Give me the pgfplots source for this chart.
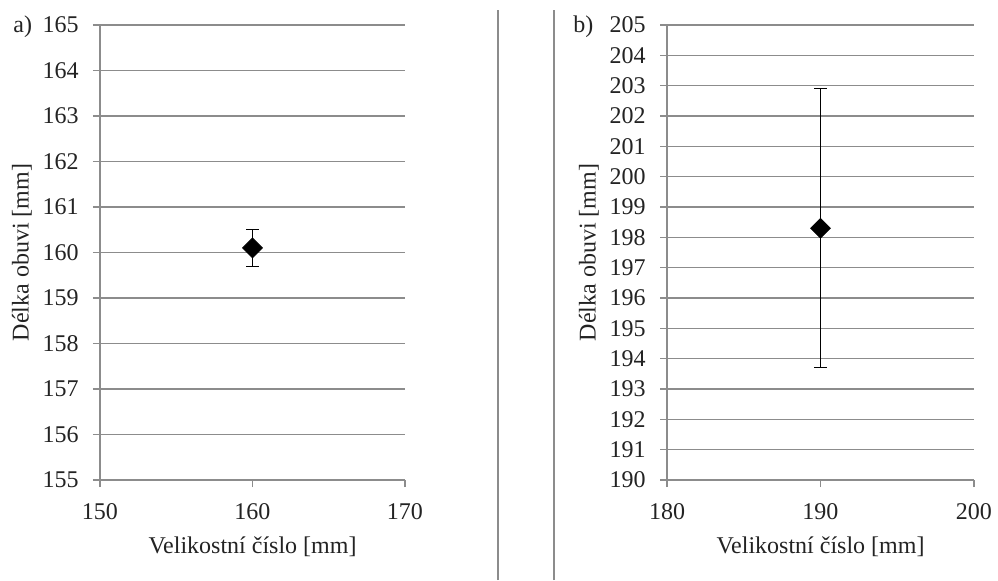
\documentclass[border=0pt]{standalone}
\usepackage{pgfplots}
\pgfplotsset{compat=1.18}
\usepackage{fontspec}
\setmainfont{Liberation Serif}
\definecolor{gridc}{RGB}{140,140,140}
\definecolor{txt}{RGB}{35,35,35}
\pgfplotsset{
  panel/.style={
    scale only axis,
    height=227.5pt,
    axis x line*=bottom, axis y line*=left,
    axis line style={gridc, line width=0.8pt, -},
    ymajorgrids, major grid style={gridc, line width=0.8pt},
    tick align=outside, major tick length=3.5pt,
    tick style={gridc, line width=0.8pt},
    /pgf/number format/assume math mode=true,
    ticklabel style={font=\fontsize{12}{14}\selectfont, text=txt},
    yticklabel style={anchor=east, inner sep=0pt, xshift=-7pt},
    xticklabel style={anchor=base, inner sep=0pt, yshift=-16pt},
    ytick distance=1,
    enlargelimits=false,
    clip=false,
    every axis y label/.style={at={([xshift=-39pt]axis description cs:0,0.5)}, anchor=center, rotate=90, font=\fontsize{12}{14}\selectfont, text=txt},
    every axis x label/.style={at={([yshift=-36.5pt]axis description cs:0.5,0)}, anchor=base, font=\fontsize{12}{14}\selectfont, text=txt},
    xlabel={Velikostní číslo [mm]},
    ylabel={Délka obuvi [mm]},
  },
  pt/.style={only marks, mark=square*, mark size=3.5pt,
    mark options={rotate=45, fill=black, draw=black},
    error bars/.cd, y dir=both, y explicit,
    error bar style={black, line width=0.6pt},
    error mark options={black, line width=0.6pt, mark size=3.2pt, rotate=90}},
}
\begin{document}
\begin{tikzpicture}
\path[use as bounding box] (0,0) rectangle (499pt,290pt);
\draw[gridc, line width=1pt] (249pt,0) -- (249pt,285pt);
\draw[gridc, line width=1pt] (277pt,0) -- (277pt,285pt);
\node[anchor=base west, inner sep=0pt, font=\fontsize{12}{14}\selectfont, text=txt] at (6.5pt,273.5pt) {a)};
\node[anchor=base west, inner sep=0pt, font=\fontsize{12}{14}\selectfont, text=txt] at (286.5pt,273.5pt) {b)};
\begin{axis}[panel, at={(50pt,50pt)}, anchor=south west, width=152.5pt,
  xmin=150, xmax=170, ymin=155, ymax=165, xtick={150,160,170}]
\addplot[pt] coordinates {(160,160.1) +- (0,0.4)};
\end{axis}
\begin{axis}[panel, at={(333.5pt,50pt)}, anchor=south west, width=153.5pt,
  xmin=180, xmax=200, ymin=190, ymax=205, xtick={180,190,200}]
\addplot[pt] coordinates {(190,198.3) +- (0,4.6)};
\end{axis}
\end{tikzpicture}
\end{document}
